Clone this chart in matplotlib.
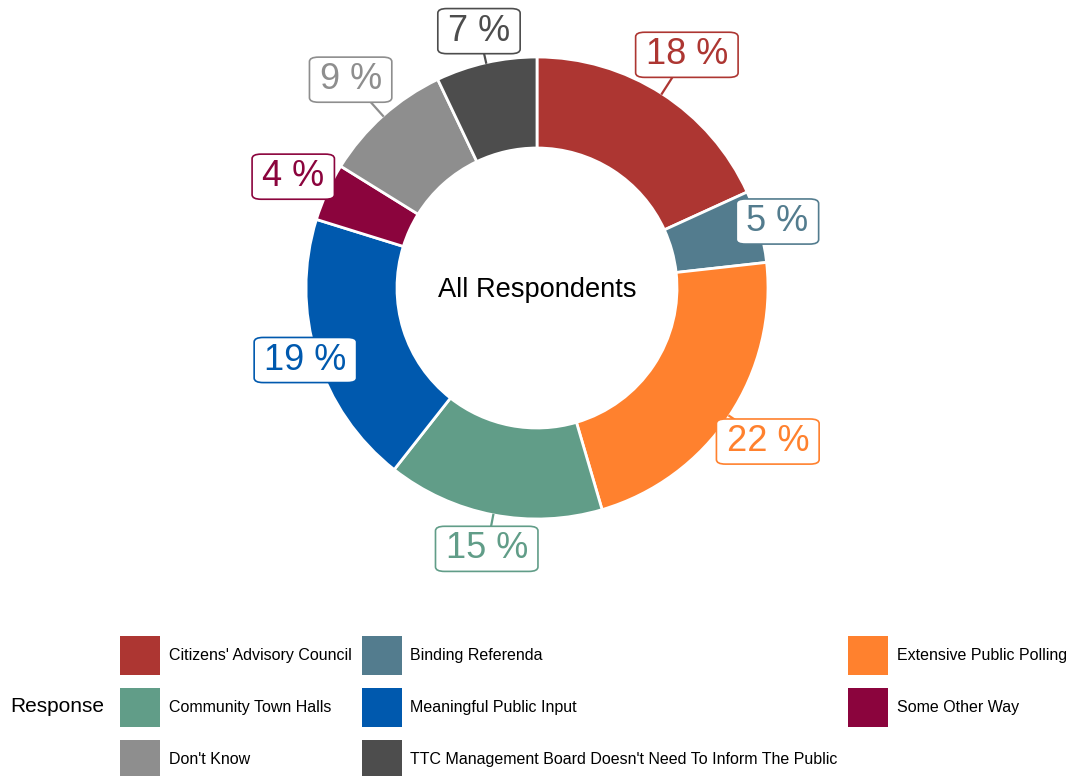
import numpy as np
import matplotlib.pyplot as plt
from matplotlib.patches import Patch

plt.rcParams['font.family'] = ['Liberation Sans', 'DejaVu Sans']

# data
responses = ["Citizens' Advisory Council", "Binding Referenda", "Extensive Public Polling",
             "Community Town Halls", "Meaningful Public Input", "Some Other Way",
             "Don't Know", "TTC Management Board Doesn't Need To Inform The Public"]
shares = [18, 5, 22, 15, 19, 4, 9, 7]
colors = ['#AD3632', '#537C8E', '#FF812E', '#619D88', '#0059AE', '#8B043D', '#8E8E8E', '#4D4D4D']
center_label = "All Respondents"

# how far out each label sits (x outer radius), like the repelled labels
label_dist = [1.20, 1.08, 1.20, 1.15, 1.05, 1.16, 1.21, 1.14]

W, H = 1067, 776
fig = plt.figure(figsize=(W / 100, H / 100), dpi=100)
ax = fig.add_axes([0, 0, 1, 1])

cx, cy = 537, H - 288   # donut centre, pixel units
R, ring = 231, 91

wedges, _ = ax.pie(shares, colors=colors, radius=R, center=(cx, cy), startangle=90,
                   counterclock=False, frame=True,
                   wedgeprops=dict(width=ring, edgecolor='white', linewidth=2))
ax.set_xlim(0, W)
ax.set_ylim(0, H)
ax.set_aspect('equal')
ax.axis('off')

ax.text(cx, cy - 2, center_label, ha='center', va='center', fontsize=19.6, color='black')

# percent labels outside the ring
total = sum(shares)
cum = np.cumsum(shares) - np.array(shares) / 2
for v, c, m, d in zip(shares, colors, cum, label_dist):
    ang = np.deg2rad(90 - m / total * 360)
    lx, ly = cx + R * d * np.cos(ang), cy + R * d * np.sin(ang)
    ax.plot([cx + R * np.cos(ang), lx], [cy + R * np.sin(ang), ly], color=c, lw=1.6, zorder=2)
    ax.text(lx, ly, f"{v} %", ha='center', va='center', fontsize=26, color=c, zorder=4,
            bbox=dict(boxstyle='round,pad=0.28,rounding_size=0.25', fc='white', ec=c, lw=1.2,
                      mutation_aspect=0.5))

# legend, filled row by row
order = [0, 3, 6, 1, 4, 7, 2, 5]
handles = [Patch(facecolor=colors[i], edgecolor='none') for i in order]
labels = [responses[i] for i in order]
fig.legend(handles, labels, ncol=3, loc='upper left',
           bbox_to_anchor=(120 / W, (H - 636) / H), frameon=False,
           fontsize=11.5, handlelength=2.5, handleheight=3.35, handletextpad=0.55,
           columnspacing=0.64, labelspacing=0.84, borderpad=0, borderaxespad=0)
fig.text(10 / W, (H - 707) / H, "Response", ha='left', va='center', fontsize=15)

fig.savefig('out.png', dpi=100)
